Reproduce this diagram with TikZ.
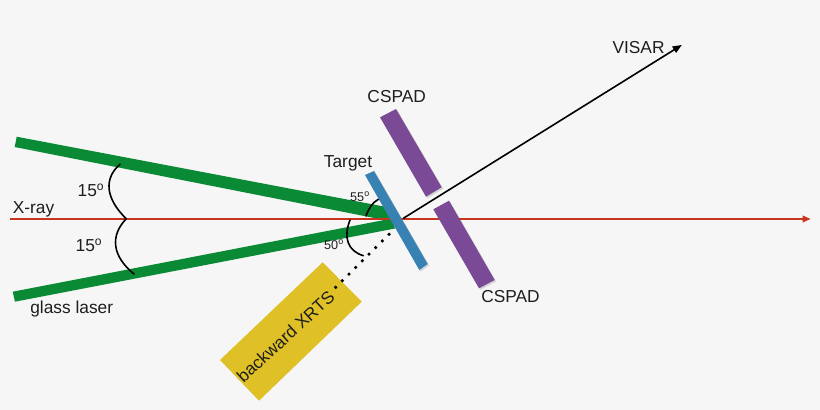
\documentclass[tikz,border=0pt]{standalone}
\usepackage{fontspec}
\setmainfont{Liberation Sans}
\definecolor{bgcol}{RGB}{246,246,246}
\definecolor{beamgreen}{RGB}{10,138,52}
\definecolor{xraycol}{RGB}{200,52,28}
\definecolor{targetblue}{RGB}{55,130,178}
\definecolor{cspadpurple}{RGB}{122,74,150}
\definecolor{xrtsyellow}{RGB}{223,192,38}
\definecolor{labelcol}{RGB}{30,30,30}
\tikzset{every picture/.style={line width=0.75pt}}
\tikzset{
	lbl/.style={text=labelcol,font=\fontsize{13}{15}\selectfont,inner sep=0pt},
	smalllbl/.style={text=labelcol,font=\fontsize{9.5}{11}\selectfont,inner sep=0pt},
	anglearc/.style={line width=1.2pt,line cap=round},
	softshadow/.style={fill=black,fill opacity=0.13,shift={(1.5,1.5)}}
}
\begin{document}
\begin{tikzpicture}[x=0.75pt,y=0.75pt,yscale=-1,xscale=1]
	%Shape: Background
	\fill [bgcol] (0,0) rectangle (820,410);
	\useasboundingbox (0,0) rectangle (820,410);

	%Shape: Upper beam
	\fill [beamgreen] (16.7,136.7) -- (14.7,147) -- (382,219.5) -- (395,219.5) -- (385,206.7) -- cycle ;
	%Shape: Lower beam
	\fill [beamgreen] (12.7,291.7) -- (15,301.7) -- (395,228.5) -- (392,218.5) -- cycle ;

	%Straight Lines: X-ray
	\draw [xraycol,line width=1.3pt] (10,219) -- (804,219) ;
	\draw [shift={(810.5,219)}, rotate = 180] [fill=xraycol][line width=0.08]  [draw opacity=0] (8,-3.6) -- (0,0) -- (8,3.6) -- cycle    ;
	%Straight Lines: VISAR
	\coordinate (hit) at (403.3,218.3);
	\coordinate (visarend) at (677,48);
	\draw [line width=1.2pt] (hit) -- (visarend) ;
	\draw [shift={(681.7,45)}, rotate = 148.1] [fill={rgb, 255:red, 0; green, 0; blue, 0 }][line width=0.08]  [draw opacity=0] (9,-3.8) -- (0,0) -- (9,3.8) -- cycle    ;

	%Shape: CSPAD upper
	\fill [softshadow] (380,117.3) -- (396,109) -- (441.7,187.3) -- (426,196.7) -- cycle ;
	\fill [cspadpurple] (380,117.3) -- (396,109) -- (441.7,187.3) -- (426,196.7) -- cycle ;
	%Shape: CSPAD lower
	\fill [softshadow] (433.3,209.3) -- (449,200.7) -- (494.7,280) -- (479,288.3) -- cycle ;
	\fill [cspadpurple] (433.3,209.3) -- (449,200.7) -- (494.7,280) -- (479,288.3) -- cycle ;
	%Shape: Target
	\fill [softshadow] (365,175) -- (374,171) -- (427.7,264) -- (419.3,270) -- cycle ;
	\fill [targetblue] (365,175) -- (374,171) -- (427.7,264) -- (419.3,270) -- cycle ;
	%Shape: XRTS block
	\fill [xrtsyellow] (322.7,262.3) -- (361.7,301.7) -- (259,400.7) -- (220,360) -- cycle ;

	%Straight Lines: dotted view
	\coordinate (xrtsa) at (389,234.3);
	\coordinate (xrtsb) at (335.4,287.6);
	\draw [line width=2.7pt,line cap=round,dash pattern={on 0pt off 7.05pt}] (xrtsa) -- (xrtsb) ;

	%Curve Lines: angle arcs
	\draw [anglearc] (120,164.3) .. controls (104,178) and (105,198) .. (126,218.5) ;
	\draw [anglearc] (126,219) .. controls (110,236) and (112,256) .. (134,274) ;
	\draw [anglearc] (366,216) .. controls (369,208) and (372,203) .. (378.3,199.3) ;
	\draw [anglearc] (350,220) .. controls (343,238) and (348,251) .. (363.3,255.7) ;

	% Text Node
	\node [lbl] (cspadtop) at (396.7,97) {CSPAD};
	% Text Node
	\node [lbl] (cspadbot) at (510.5,296.5) {CSPAD};
	% Text Node
	\node [lbl] (target) at (348,163.5) {Target};
	% Text Node
	\node [lbl] (visar) at (638.5,48) {VISAR};
	% Text Node
	\node [lbl] (xray) at (33.5,209) {X-ray};
	% Text Node
	\node [lbl] (glass) at (71.7,309.5) {glass laser};
	% Text Node
	\node [lbl] (upangle) at (91,190) {15\textsuperscript{o}};
	% Text Node
	\node [lbl] (lowangle) at (89,245) {15\textsuperscript{o}};
	% Text Node
	\node [smalllbl] (tgtangle) at (360,197) {55\textsuperscript{o}};
	% Text Node
	\node [smalllbl] (xrtsangle) at (334,245) {50\textsuperscript{o}};
	% Text Node
	\node [lbl,rotate=42.4] (xrts) at (285.5,336.5) {backward XRTS};
\end{tikzpicture}
\end{document}
